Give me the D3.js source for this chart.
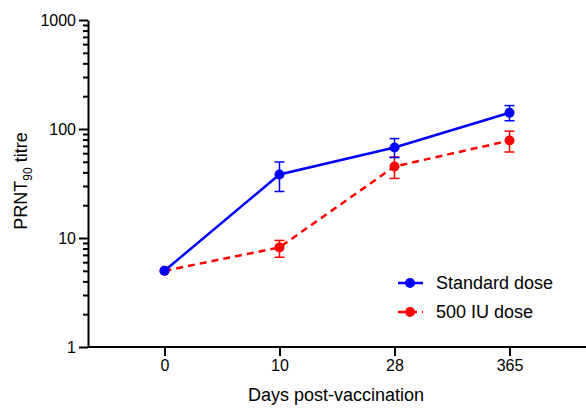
<!DOCTYPE html>
<html>
<head>
<meta charset="utf-8">
<script src="https://cdn.jsdelivr.net/npm/d3@7"></script>
<style>
  body { margin: 0; background: #fff; }
  svg { font-family: "Liberation Sans", Arial, sans-serif; }
</style>
</head>
<body>
<div id="chart"></div>
<script>
// data
var days = ["0", "10", "28", "365"];
var standardMean = [5, 38.3, 67.6, 141];
var standardLow = [5, 26.7, 54.7, 119];
var standardHigh = [5, 49.8, 81.7, 164];
var lowDoseMean = [5, 8.2, 45.3, 78.3];
var lowDoseLow = [5, 6.66, 35.2, 61.5];
var lowDoseHigh = [5, 9.5, 55.3, 95.6];
var yTicks = [1, 10, 100, 1000];
var seriesNames = ["Standard dose", "500 IU dose"];
var seriesColours = ["#0000ff", "#ff0000"];

var width = 586, height = 408;
var margin = {left: 88, right: 0, top: 20, bottom: 61};

var svg = d3.select("#chart").append("svg")
  .attr("width", width).attr("height", height);

var x = d3.scalePoint().domain(days)
  .range([margin.left, width - margin.right]).padding(0.665);
var y = d3.scaleLog().domain([1, 1000])
  .range([height - margin.bottom, margin.top]);

// minor ticks 2..9 per decade
var minor = [];
[1, 10, 100].forEach(function(d) {
  for (var k = 2; k <= 9; k++) minor.push(d * k);
});

var yAxisMinor = svg.append("g")
  .attr("transform", "translate(" + margin.left + ",0)")
  .call(d3.axisLeft(y).tickValues(minor).tickSize(5).tickFormat(""));
yAxisMinor.select(".domain").remove();

var yAxis = svg.append("g")
  .attr("transform", "translate(" + margin.left + ",0)")
  .call(d3.axisLeft(y).tickValues(yTicks).tickSize(9).tickPadding(3)
    .tickFormat(d3.format("d")).tickSizeOuter(0));

var xAxis = svg.append("g")
  .attr("transform", "translate(0," + (height - margin.bottom) + ")")
  .call(d3.axisBottom(x).tickSize(9).tickPadding(4).tickSizeOuter(0));
xAxis.select(".domain").attr("d", "M" + margin.left + ",0H" + width);

svg.selectAll(".domain, .tick line")
  .attr("stroke", "#000").attr("stroke-width", 2);
svg.selectAll(".tick text")
  .attr("font-size", 16).attr("fill", "#000")
  .attr("font-family", "Liberation Sans, Arial, sans-serif");

// axis titles
svg.append("text")
  .attr("x", 336).attr("y", 401)
  .attr("text-anchor", "middle").attr("font-size", 18)
  .text("Days post-vaccination");

var yl = svg.append("text")
  .attr("transform", "translate(27," + 181 + ") rotate(-90)")
  .attr("text-anchor", "middle").attr("font-size", 18);
yl.append("tspan").text("PRNT");
yl.append("tspan").attr("font-size", 12).attr("dy", 5).text("90");
yl.append("tspan").attr("dy", -5).text(" titre");

var series = [
  {mean: lowDoseMean, low: lowDoseLow, high: lowDoseHigh, colour: seriesColours[1], dash: "7,5"},
  {mean: standardMean, low: standardLow, high: standardHigh, colour: seriesColours[0], dash: null}
];

series.forEach(function(s) {
  var pts = days.map(function(d, i) {
    return {day: d, mean: s.mean[i], low: s.low[i], high: s.high[i]};
  });
  var g = svg.append("g");

  // error bars
  var eb = g.selectAll(".err").data(pts.filter(function(p) { return p.high > p.low; }))
    .enter().append("g").attr("stroke", s.colour).attr("stroke-width", 1.5);
  eb.append("line")
    .attr("x1", function(p) { return x(p.day); }).attr("x2", function(p) { return x(p.day); })
    .attr("y1", function(p) { return y(p.low); }).attr("y2", function(p) { return y(p.high); });
  eb.append("line")
    .attr("x1", function(p) { return x(p.day) - 5; }).attr("x2", function(p) { return x(p.day) + 5; })
    .attr("y1", function(p) { return y(p.low); }).attr("y2", function(p) { return y(p.low); });
  eb.append("line")
    .attr("x1", function(p) { return x(p.day) - 5; }).attr("x2", function(p) { return x(p.day) + 5; })
    .attr("y1", function(p) { return y(p.high); }).attr("y2", function(p) { return y(p.high); });

  g.append("path").datum(pts)
    .attr("fill", "none").attr("stroke", s.colour).attr("stroke-width", 2.5)
    .attr("stroke-dasharray", s.dash)
    .attr("d", d3.line().x(function(p) { return x(p.day); }).y(function(p) { return y(p.mean); }));

  g.selectAll("circle").data(pts).enter().append("circle")
    .attr("cx", function(p) { return x(p.day); })
    .attr("cy", function(p) { return y(p.mean); })
    .attr("r", 5).attr("fill", s.colour);
});

// legend
var legend = svg.append("g").attr("transform", "translate(398,283)");
seriesNames.forEach(function(name, i) {
  var row = legend.append("g").attr("transform", "translate(0," + (i * 29) + ")");
  row.append("line").attr("x1", 0).attr("x2", 25).attr("y1", 0).attr("y2", 0)
    .attr("stroke", seriesColours[i]).attr("stroke-width", 2.5)
    .attr("stroke-dasharray", i === 1 ? "7,5" : null);
  row.append("circle").attr("cx", 12).attr("cy", 0).attr("r", 5).attr("fill", seriesColours[i]);
  row.append("text").attr("x", 38).attr("y", 6).attr("font-size", 18).text(name);
});
</script>
</body>
</html>
